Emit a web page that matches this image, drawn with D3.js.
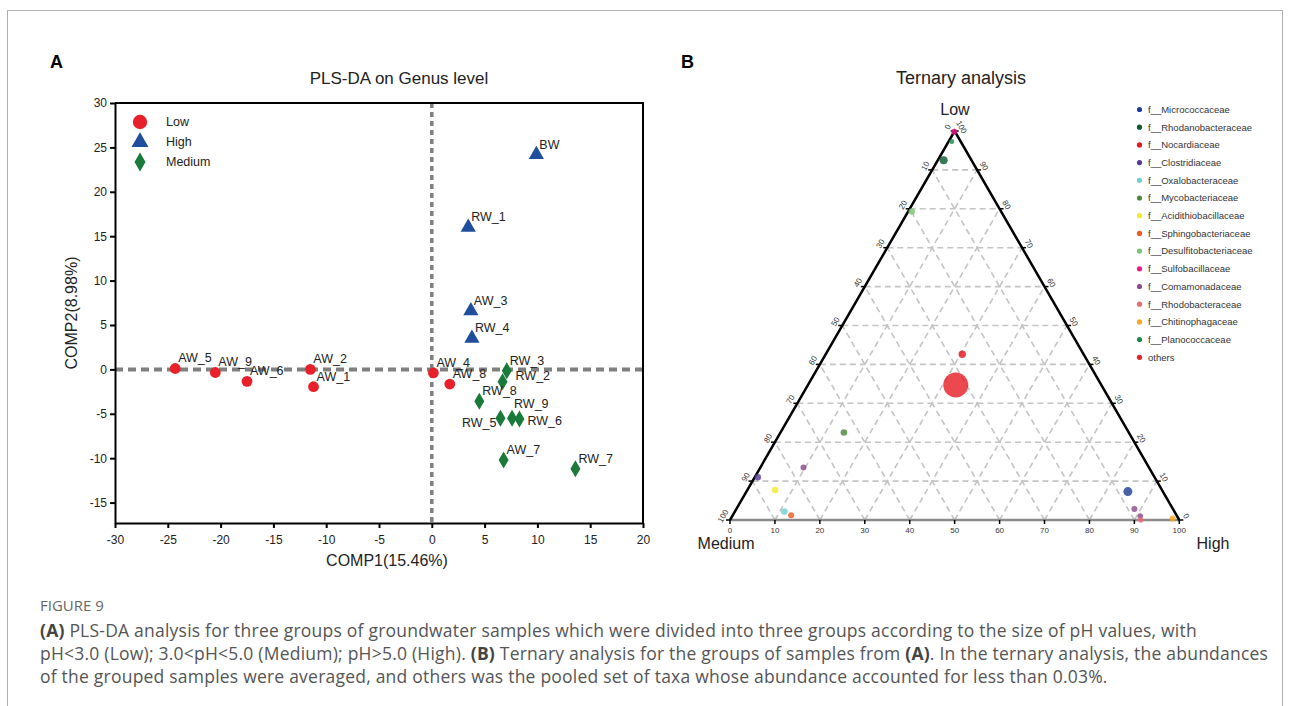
<!DOCTYPE html>
<html>
<head>
<meta charset="utf-8">
<script src="https://cdn.jsdelivr.net/npm/d3@7/dist/d3.min.js"></script>
<style>
  body { margin: 0; background: #fff; }
  text { font-family: "Liberation Sans", Arial, sans-serif; }
  .cap { font-family: "Open Sans", sans-serif; fill: #555; }
</style>
</head>
<body>
<svg id="fig" width="1293" height="706"></svg>
<script>
// ---- data: panel A (PLS-DA scores) ----
var groups = ["Low", "High", "Medium"];
var sampleNames = ["AW_5", "AW_9", "AW_6", "AW_2", "AW_1", "AW_4", "AW_8",
                   "BW", "RW_1", "AW_3", "RW_4",
                   "RW_3", "RW_2", "RW_8", "RW_5", "RW_9", "RW_6", "AW_7", "RW_7"];
var sampleGroup = ["Low", "Low", "Low", "Low", "Low", "Low", "Low",
                   "High", "High", "High", "High",
                   "Medium", "Medium", "Medium", "Medium", "Medium", "Medium", "Medium", "Medium"];
var comp1 = [-24.3, -20.5, -17.5, -11.5, -11.2, 0.15, 1.7,
             9.9, 3.45, 3.7, 3.8,
             7.1, 6.7, 4.5, 6.5, 7.6, 8.3, 6.8, 13.6];
var comp2 = [0.1, -0.35, -1.35, 0.0, -1.95, -0.4, -1.65,
             24.2, 16.0, 6.6, 3.5,
             -0.15, -1.4, -3.6, -5.5, -5.5, -5.6, -10.2, -11.2];
var xTicks = [-30, -25, -20, -15, -10, -5, 0, 5, 10, 15, 20];
var yTicks = [-15, -10, -5, 0, 5, 10, 15, 20, 25, 30];

// ---- data: panel B (ternary) ----
var families = ["f__Micrococcaceae", "f__Rhodanobacteraceae", "f__Nocardiaceae", "f__Clostridiaceae",
                "f__Oxalobacteraceae", "f__Mycobacteriaceae", "f__Acidithiobacillaceae",
                "f__Sphingobacteriaceae", "f__Desulfitobacteriaceae", "f__Sulfobacillaceae",
                "f__Comamonadaceae", "f__Rhodobacteraceae", "f__Chitinophagaceae",
                "f__Planococcaceae", "others"];
var familyColors = ["#1f3f99", "#0b5a34", "#e8151e", "#5a3a99", "#6fcfd6", "#4c8a3c", "#f0ec30",
                    "#f05a24", "#7cc576", "#e8198b", "#8b4a8b", "#e8697a", "#f5a623",
                    "#1e8a4a", "#e8202a"];
var taxonFamily = ["others", "f__Nocardiaceae", "f__Mycobacteriaceae", "f__Comamonadaceae",
                   "f__Clostridiaceae", "f__Acidithiobacillaceae", "f__Oxalobacteraceae",
                   "f__Sphingobacteriaceae", "f__Sulfobacillaceae", "f__Planococcaceae",
                   "f__Rhodanobacteraceae", "f__Desulfitobacteriaceae", "f__Micrococcaceae",
                   "f__Comamonadaceae", "f__Comamonadaceae", "f__Rhodobacteraceae",
                   "f__Chitinophagaceae"];
var lowPct    = [34.7, 42.6, 22.5, 13.5, 11.0, 7.7, 2.2, 1.2, 99.8, 97.3, 92.5, 79.3, 7.3, 2.8, 1.0, 0.0, 0.4];
var mediumPct = [32.4, 27.0, 63.4, 76.9, 88.3, 86.1, 86.8, 85.8, 0.2, 2.0, 6.2, 19.9, 7.8, 8.6, 8.2, 8.6, 1.3];
var highPct   = [32.9, 30.4, 14.1, 9.6, 0.7, 6.2, 11.0, 13.0, 0.0, 0.7, 1.3, 0.8, 84.9, 88.6, 90.8, 91.4, 98.3];
var abundance = [40, 3.5, 2.8, 2.3, 2.6, 2.8, 2.8, 2.3, 2.3, 1.6, 4.1, 2.6, 5.2, 2.3, 2.0, 2.0, 2.3];
var ternTicks = [0, 10, 20, 30, 40, 50, 60, 70, 80, 90, 100];

var svg = d3.select("#fig");

// figure frame
svg.append("rect").attr("x", 7.5).attr("y", 10.5).attr("width", 1275).attr("height", 720)
    .attr("fill", "none").attr("stroke", "#b0b0b0").attr("stroke-width", 1);

// panel letters
svg.append("text").attr("x", 50).attr("y", 68).text("A")
    .style("font-size", "18px").style("font-weight", "bold");
svg.append("text").attr("x", 681).attr("y", 68).text("B")
    .style("font-size", "18px").style("font-weight", "bold");

// ================= Panel A =================
var x = d3.scaleLinear().domain([-30, 20]).range([115, 643]);
var y = d3.scaleLinear().domain([-17.3, 30]).range([523, 103]);

var colorA = {Low: "#e8202a", High: "#1f4e9c", Medium: "#1a7a3a"};

var gA = svg.append("g");

gA.append("text").attr("x", 399).attr("y", 84).attr("text-anchor", "middle")
    .style("font-size", "17px").style("fill", "#222").text("PLS-DA on Genus level");

// reference lines at zero
gA.append("line").attr("x1", x(-30)).attr("x2", x(20)).attr("y1", y(0)).attr("y2", y(0))
    .attr("stroke", "#7f7f7f").attr("stroke-width", 4).attr("stroke-dasharray", "8,5");
gA.append("line").attr("x1", x(0)).attr("x2", x(0)).attr("y1", y(30)).attr("y2", y(-17.3))
    .attr("stroke", "#7f7f7f").attr("stroke-width", 3.5).attr("stroke-dasharray", "5,4");

// frame top / right
gA.append("path")
    .attr("d", "M" + x(-30) + "," + y(30) + "H" + x(20) + "V" + y(-17.3))
    .attr("fill", "none").attr("stroke", "#000").attr("stroke-width", 2);

var axL = gA.append("g").attr("transform", "translate(" + x(-30) + ",0)")
    .call(d3.axisLeft(y).tickValues(yTicks).tickSize(5).tickSizeOuter(0).tickFormat(function (d) { return String(d); }));
var axB = gA.append("g").attr("transform", "translate(0," + y(-17.3) + ")")
    .call(d3.axisBottom(x).tickValues(xTicks).tickSize(5).tickSizeOuter(0).tickFormat(function (d) { return String(d); }));
[axL, axB].forEach(function (ax) {
    ax.select(".domain").attr("stroke-width", 2);
    ax.selectAll(".tick line").attr("stroke-width", 2);
    ax.selectAll(".tick text").style("font-size", "12px").style("font-family", "Liberation Sans, Arial, sans-serif").attr("fill", "#222");
});
axB.selectAll(".tick text").attr("dy", "1.1em");

gA.append("text").attr("transform", "translate(77,313) rotate(-90)").attr("text-anchor", "middle")
    .style("font-size", "16px").style("fill", "#222").text("COMP2(8.98%)");
gA.append("text").attr("x", 387).attr("y", 566).attr("text-anchor", "middle")
    .style("font-size", "16px").style("fill", "#222").text("COMP1(15.46%)");

function marker(sel, grp, big) {
    if (grp === "Low") {
        sel.append("circle").attr("r", big ? 7.2 : 5.4).attr("fill", colorA.Low);
    } else if (grp === "High") {
        sel.append("path").attr("d", d3.symbol(d3.symbolTriangle, big ? 125 : 100)()).attr("fill", colorA.High);
    } else {
        var w = big ? 5.5 : 5, h = big ? 9.5 : 8.5;
        sel.append("path").attr("d", "M0," + (-h) + "L" + w + ",0L0," + h + "L" + (-w) + ",0Z").attr("fill", colorA.Medium);
    }
}

var labelShift = {RW_2: [13, -2, "start"], RW_5: [-4, 9, "end"], RW_6: [8, 6, "start"], RW_9: [2, -10, "start"]};

sampleNames.forEach(function (name, i) {
    var g = gA.append("g").attr("transform", "translate(" + x(comp1[i]) + "," + y(comp2[i]) + ")");
    marker(g, sampleGroup[i], false);
    var s = labelShift[name] || [3, -6, "start"];
    gA.append("text").attr("x", x(comp1[i]) + s[0]).attr("y", y(comp2[i]) + s[1])
        .attr("text-anchor", s[2]).style("font-size", "12.5px").style("fill", "#222").text(name);
});

groups.forEach(function (grp, i) {
    var g = gA.append("g").attr("transform", "translate(140," + (122 + i * 20) + ")");
    marker(g, grp, true);
    gA.append("text").attr("x", 166).attr("y", 126 + i * 20)
        .style("font-size", "12.5px").style("fill", "#222").text(grp);
});

// ================= Panel B =================
var tx = d3.scaleLinear().domain([0, 100]).range([730, 1179.3]);
var ty = d3.scaleLinear().domain([0, 100]).range([520, 131]);
var rScale = d3.scaleSqrt().domain([0, 40]).range([0, 12.5]);
var famColor = d3.scaleOrdinal().domain(families).range(familyColors);

function tern(L, M, H) {
    var s = L + M + H;
    L = 100 * L / s; H = 100 * H / s;
    return [tx(H + L / 2), ty(L)];
}

var gB = svg.append("g");

gB.append("text").attr("x", 961).attr("y", 84).attr("text-anchor", "middle")
    .style("font-size", "18px").style("fill", "#222").text("Ternary analysis");

// dashed grid
for (var k = 10; k < 100; k += 10) {
    var segs = [
        [tern(k, 100 - k, 0), tern(k, 0, 100 - k)],
        [tern(0, 100 - k, k), tern(100 - k, 0, k)],
        [tern(0, k, 100 - k), tern(100 - k, k, 0)]
    ];
    segs.forEach(function (sg) {
        gB.append("line").attr("x1", sg[0][0]).attr("y1", sg[0][1]).attr("x2", sg[1][0]).attr("y2", sg[1][1])
            .attr("stroke", "#c4c4c4").attr("stroke-width", 1.6).attr("stroke-dasharray", "6,4");
    });
}

var pTop = tern(100, 0, 0), pLeft = tern(0, 100, 0), pRight = tern(0, 0, 100);
gB.append("line").attr("x1", pLeft[0]).attr("y1", pLeft[1]).attr("x2", pRight[0]).attr("y2", pRight[1])
    .attr("stroke", "#8a8a8a").attr("stroke-width", 2.5);
gB.append("path").attr("d", "M" + pLeft + "L" + pTop + "L" + pRight)
    .attr("fill", "none").attr("stroke", "#000").attr("stroke-width", 2.5).attr("stroke-linejoin", "miter");

// ticks and tick labels
ternTicks.forEach(function (t) {
    var pl = tern(100 - t, t, 0);          // left edge: Medium %
    gB.append("line").attr("x1", pl[0]).attr("y1", pl[1]).attr("x2", pl[0] - 4).attr("y2", pl[1])
        .attr("stroke", "#000").attr("stroke-width", 1.5);
    gB.append("text").attr("transform", "translate(" + (pl[0] - 7) + "," + (pl[1] - 4) + ") rotate(-60)")
        .attr("text-anchor", "middle").attr("dy", "0.35em").style("font-size", "8px").style("fill", "#333").text(t);

    var pr = tern(t, 0, 100 - t);          // right edge: Low %
    gB.append("line").attr("x1", pr[0]).attr("y1", pr[1]).attr("x2", pr[0] + 4).attr("y2", pr[1])
        .attr("stroke", "#000").attr("stroke-width", 1.5);
    gB.append("text").attr("transform", "translate(" + (pr[0] + 7) + "," + (pr[1] - 4) + ") rotate(60)")
        .attr("text-anchor", "middle").attr("dy", "0.35em").style("font-size", "8px").style("fill", "#333").text(t);

    var pb = tern(0, 100 - t, t);          // bottom edge: High %
    gB.append("line").attr("x1", pb[0]).attr("y1", pb[1]).attr("x2", pb[0]).attr("y2", pb[1] + 4)
        .attr("stroke", "#000").attr("stroke-width", 1.5);
    gB.append("text").attr("x", pb[0]).attr("y", pb[1] + 13)
        .attr("text-anchor", "middle").style("font-size", "8px").style("fill", "#333").text(t);
});

gB.append("text").attr("x", 955).attr("y", 115).attr("text-anchor", "middle")
    .style("font-size", "16px").style("fill", "#222").text("Low");
gB.append("text").attr("x", 726).attr("y", 549).attr("text-anchor", "middle")
    .style("font-size", "16px").style("fill", "#222").text("Medium");
gB.append("text").attr("x", 1213).attr("y", 549).attr("text-anchor", "middle")
    .style("font-size", "16px").style("fill", "#222").text("High");

// taxa points, largest first so small dots stay visible
d3.range(taxonFamily.length).sort(function (a, b) { return abundance[b] - abundance[a]; }).forEach(function (i) {
    var p = tern(lowPct[i], mediumPct[i], highPct[i]);
    gB.append("circle").attr("cx", p[0]).attr("cy", p[1]).attr("r", rScale(abundance[i]))
        .attr("fill", famColor(taxonFamily[i])).attr("fill-opacity", 0.82);
});

// legend B
families.forEach(function (f, i) {
    var yy = 109.5 + i * 17.7;
    gB.append("circle").attr("cx", 1139.5).attr("cy", yy).attr("r", 2.6).attr("fill", famColor(f));
    gB.append("text").attr("x", 1148).attr("y", yy + 3.3).style("font-size", "9.5px").style("fill", "#333").text(f);
});

// ================= caption =================
var cap = svg.append("g");
cap.append("text").attr("class", "cap").attr("x", 40).attr("y", 611)
    .style("font-size", "15px").style("fill", "#666").text("FIGURE 9");
var capLines = [
    [["(A)", true], [" PLS-DA analysis for three groups of groundwater samples which were divided into three groups according to the size of pH values, with", false]],
    [["pH<3.0 (Low); 3.0<pH<5.0 (Medium); pH>5.0 (High). ", false], ["(B)", true], [" Ternary analysis for the groups of samples from ", false], ["(A)", true], [". In the ternary analysis, the abundances", false]],
    [["of the grouped samples were averaged, and others was the pooled set of taxa whose abundance accounted for less than 0.03%.", false]]
];
capLines.forEach(function (line, i) {
    var t = cap.append("text").attr("class", "cap").attr("x", 40).attr("y", 637 + i * 23)
        .style("font-size", "17.5px").style("letter-spacing", "0.22px");
    line.forEach(function (part) {
        t.append("tspan").text(part[0]).style("font-weight", part[1] ? "bold" : "normal")
            .style("fill", part[1] ? "#444" : "#555");
    });
});
</script>
</body>
</html>
